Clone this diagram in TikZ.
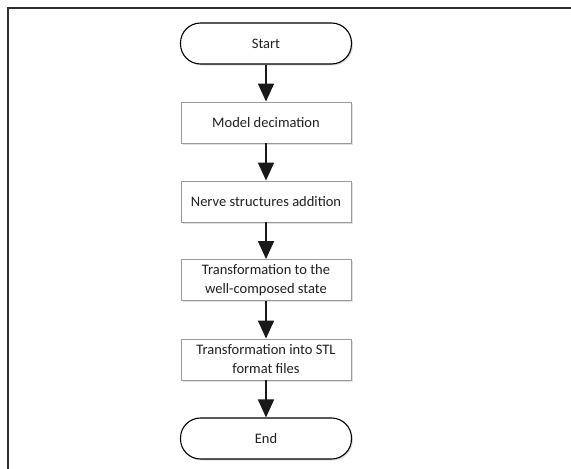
\documentclass[tikz,border=0pt]{standalone}
\usepackage{fontspec}
\setmainfont{Carlito}
\usetikzlibrary{arrows.meta,positioning,shadows}
\definecolor{boxgray}{HTML}{9A9A9A}
\definecolor{framegray}{HTML}{303030}
\definecolor{textgray}{HTML}{202020}
\tikzset{
  procbox/.style={draw=boxgray, line width=0.9pt, fill=white, minimum width=170pt, minimum height=41pt,
    align=center, text=textgray, font=\fontsize{14.5}{19}\selectfont, inner sep=0pt,
    drop shadow={shadow xshift=1.5pt, shadow yshift=-1.5pt, opacity=0.12, fill=black}},
  termbox/.style={draw=black, line width=1.1pt, fill=white, rounded corners=20pt, minimum width=171pt,
    minimum height=41pt, text=textgray, font=\fontsize{14.5}{19}\selectfont, inner sep=0pt,
    drop shadow={shadow xshift=1.5pt, shadow yshift=-1.5pt, opacity=0.12, fill=black}},
  flowarrow/.style={draw=black!90, line width=1.6pt, -{Triangle[length=18pt,width=16pt]}},
}
\begin{document}
\begin{tikzpicture}[x=1pt,y=-1pt]
\useasboundingbox (0,0) rectangle (571,469);
\clip (0,0) rectangle (571,469);
\draw[framegray, line width=1.3pt] (8,475) -- (8,8) -- (580,8);
\node[termbox] (start) at (266,43.5) {Start};
\node[procbox] (model) at (266,122.5) {Model decimation};
\node[procbox] (nerve) at (266,201.5) {Nerve structures addition};
\node[procbox] (trans) at (266,280) {Transformation to the\\well-composed state};
\node[procbox] (stl) at (266,359.5) {Transformation into STL\\format files};
\node[termbox] (end) at (266,438.5) {End};
\draw[flowarrow] (start) -- (model);
\draw[flowarrow] (model) -- (nerve);
\draw[flowarrow] (nerve) -- (trans);
\draw[flowarrow] (trans) -- (stl);
\draw[flowarrow] (stl) -- (end);
\end{tikzpicture}
\end{document}
